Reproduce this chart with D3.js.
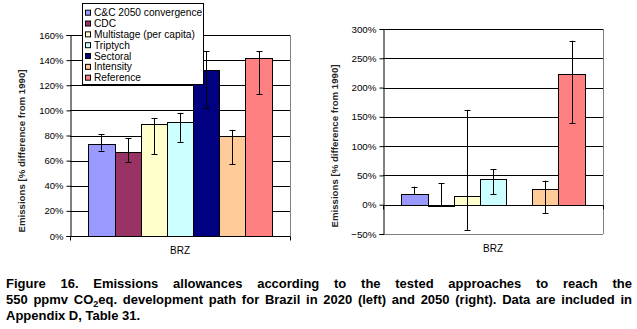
<!DOCTYPE html>
<html>
<head>
<meta charset="utf-8">
<script src="https://cdn.jsdelivr.net/npm/d3@7"></script>
<style>
  body { margin: 0; background: #fff; }
  svg { display: block; font-family: Arial, "Liberation Sans", sans-serif; }
</style>
</head>
<body>
<div id="chart"></div>
<script>
// series shared by both panels
const series = ["C&C 2050 convergence", "CDC", "Multistage (per capita)", "Triptych", "Sectoral", "Intensity", "Reference"]
const colors = ["#9999ff", "#993366", "#ffffcc", "#ccffff", "#000080", "#ffcc99", "#ff8080"]
const category = ["BRZ"]

// 2020 (left)
const val2020 = [0.73, 0.67, 0.89, 0.91, 1.32, 0.80, 1.42]
const low2020 = [0.68, 0.59, 0.65, 0.75, 1.02, 0.57, 1.13]
const high2020 = [0.81, 0.78, 0.94, 0.98, 1.47, 0.845, 1.47]
const ticks2020 = [0, 0.2, 0.4, 0.6, 0.8, 1.0, 1.2, 1.4, 1.6]

// 2050 (right), no sectoral value
const val2050 = [0.18, -0.02, 0.15, 0.44, null, 0.27, 2.24]
const low2050 = [0.18, -0.02, -0.43, 0.18, null, -0.14, 1.39]
const high2050 = [0.31, 0.37, 1.62, 0.61, null, 0.41, 2.80]
const ticks2050 = [-0.5, 0, 0.5, 1.0, 1.5, 2.0, 2.5, 3.0]

const yTitle = "Emissions [% difference from 1990]"

const W = 637, H = 329
const svg = d3.select("#chart").append("svg")
    .attr("width", W)
    .attr("height", H)

const fmt = d3.format(".0%")

function panel(opt) {
    const g = svg.append("g")
    const x0 = d3.scaleBand().domain(category).range([opt.left, opt.right]).paddingOuter(0.1).paddingInner(0)
    const x1 = d3.scaleBand().domain(series).range([0, x0.bandwidth()])
    const y = d3.scaleLinear().domain(opt.domain).range([opt.bottom, opt.top])
    const tks = opt.ticks

    // gridlines
    g.selectAll(".grid")
        .data(tks.filter(t => t !== 0 && t !== opt.domain[0]))
        .enter().append("line")
        .attr("x1", opt.left).attr("x2", opt.right)
        .attr("y1", d => Math.round(y(d)) + 0.5).attr("y2", d => Math.round(y(d)) + 0.5)
        .attr("stroke", "#000").attr("stroke-width", 1)

    // gray plot border (right, bottom)
    g.append("line")
        .attr("x1", opt.right + 0.5).attr("x2", opt.right + 0.5)
        .attr("y1", y(opt.domain[1])).attr("y2", y(opt.domain[0]))
        .attr("stroke", "#808080")
    if (opt.domain[0] !== 0) {
        g.append("line")
            .attr("x1", opt.left).attr("x2", opt.right)
            .attr("y1", Math.round(y(opt.domain[0])) + 0.5).attr("y2", Math.round(y(opt.domain[0])) + 0.5)
            .attr("stroke", "#808080")
    }

    const rows = series.map((s, i) => ({ s: s, i: i, v: opt.vals[i], lo: opt.lows[i], hi: opt.highs[i] }))
        .filter(d => d.v !== null)

    const bx = d => x0("BRZ") + x1(d.s)
    g.selectAll(".bar")
        .data(rows)
        .enter().append("rect")
        .attr("x", d => Math.round(bx(d)) + 0.5)
        .attr("width", d => Math.round(bx(d) + x1.bandwidth()) - Math.round(bx(d)))
        .attr("y", d => Math.round(y(Math.max(0, d.v))) + 0.5)
        .attr("height", d => Math.max(1, Math.abs(Math.round(y(0)) - Math.round(y(d.v)))))
        .attr("fill", d => colors[d.i])
        .attr("stroke", "#000").attr("stroke-width", 1)

    // error bars
    const cx = d => Math.round(bx(d) + x1.bandwidth() / 2) + 0.5
    const eb = g.selectAll(".err").data(rows).enter().append("g")
    eb.append("line")
        .attr("x1", cx).attr("x2", cx)
        .attr("y1", d => y(d.hi)).attr("y2", d => y(d.lo))
        .attr("stroke", "#000")
    eb.append("line")
        .attr("x1", d => cx(d) - 3).attr("x2", d => cx(d) + 3)
        .attr("y1", d => Math.round(y(d.hi)) + 0.5).attr("y2", d => Math.round(y(d.hi)) + 0.5)
        .attr("stroke", "#000")
    eb.filter(d => d.lo !== d.v).append("line")
        .attr("x1", d => cx(d) - 3).attr("x2", d => cx(d) + 3)
        .attr("y1", d => Math.round(y(d.lo)) + 0.5).attr("y2", d => Math.round(y(d.lo)) + 0.5)
        .attr("stroke", "#000")

    // category axis at zero
    const y0 = Math.round(y(0)) + 0.5
    g.append("line")
        .attr("x1", opt.left).attr("x2", opt.right + 0.5)
        .attr("y1", y0).attr("y2", y0)
        .attr("stroke", "#000")
    g.selectAll(".xtick")
        .data([opt.left + 0.5, opt.right + 0.5])
        .enter().append("line")
        .attr("x1", d => d).attr("x2", d => d)
        .attr("y1", y0).attr("y2", y0 + 4)
        .attr("stroke", "#000")

    // value axis
    const yAxis = d3.axisLeft(y).tickValues(tks).tickFormat(fmt).tickSize(4).tickPadding(3)
    const ya = g.append("g")
        .attr("transform", "translate(" + (opt.left + 0.5) + ",0)")
        .call(yAxis)
    ya.select(".domain").attr("stroke", "#000")
    ya.selectAll(".tick line").attr("stroke", "#000")
    ya.selectAll("text")
        .attr("fill", "#000")
        .style("font-family", "Arial, 'Liberation Sans', sans-serif")
        .style("font-size", opt.tickFont + "px")

    // category label
    g.append("text")
        .attr("x", x0("BRZ") + x0.bandwidth() / 2)
        .attr("y", opt.catY)
        .attr("text-anchor", "middle")
        .style("font-size", "10px")
        .text("BRZ")

    // axis title
    g.append("text")
        .attr("transform", "translate(" + opt.titleX + "," + opt.titleY + ") rotate(-90)")
        .attr("text-anchor", "middle")
        .attr("textLength", 163)
        .attr("lengthAdjust", "spacingAndGlyphs")
        .style("font-size", "9.5px")
        .style("font-weight", "bold")
        .attr("fill", "#222")
        .text(yTitle)
}

panel({ left: 70, right: 290, top: 35, bottom: 236, domain: [0, 1.6], ticks: ticks2020,
    vals: val2020, lows: low2020, highs: high2020, tickFont: 9.5, catY: 254, titleX: 25, titleY: 151 })
panel({ left: 383, right: 603, top: 29, bottom: 234, domain: [-0.5, 3.0], ticks: ticks2050,
    vals: val2050, lows: low2050, highs: high2050, tickFont: 9.8, catY: 252, titleX: 338, titleY: 146 })

// legend on left panel
const lg = svg.append("g")
lg.append("rect")
    .attr("x", 82.5).attr("y", 3.5)
    .attr("width", 121).attr("height", 81)
    .attr("fill", "#fff").attr("stroke", "#000")
const li = lg.selectAll(".li").data(series).enter().append("g")
    .attr("transform", (d, i) => "translate(0," + (12.7 + i * 10.83) + ")")
li.append("rect")
    .attr("x", 85.5).attr("y", -2.5)
    .attr("width", 5).attr("height", 5)
    .attr("fill", (d, i) => colors[i])
    .attr("stroke", "#000")
li.append("text")
    .attr("x", 94).attr("y", 3.6)
    .style("font-size", "10.2px")
    .text(d => d)

// caption, justified like the source
const capFont = "'Liberation Sans Narrow', 'Arial Narrow', Arial, 'Liberation Sans', sans-serif"
const capLines = [
    { words: ["Figure", "16.", "Emissions", "allowances", "according", "to", "the", "tested", "approaches", "to", "reach", "the"], justify: true },
    { words: ["550", "ppmv", "CO2eq.", "development", "path", "for", "Brazil", "in", "2020", "(left)", "and", "2050", "(right).", "Data", "are", "included", "in"], justify: true },
    { words: ["Appendix", "D,", "Table", "31."], justify: false }
]
const capX = 6, capW = 626, capY = [288, 304, 320]

const cap = svg.append("g")
function addWord(parent, w) {
    const t = parent.append("text")
        .style("font-family", capFont)
        .style("font-size", "13px")
        .style("font-weight", "bold")
    if (w === "CO2eq.") {
        t.append("tspan").text("CO")
        t.append("tspan").attr("dy", 2.5).style("font-size", "9px").text("2")
        t.append("tspan").attr("dy", -2.5).text("eq.")
    } else {
        t.text(w)
    }
    return t
}
// measure
const probe = cap.append("g")
const spaceW = (function () {
    const a = addWord(probe, "a a").node().getComputedTextLength()
    const b = addWord(probe, "aa").node().getComputedTextLength()
    return a - b
})()
const lineData = capLines.map(l => {
    const ws = l.words.map(w => {
        const n = addWord(probe, w).node()
        return n.getComputedTextLength()
    })
    return { words: l.words, widths: ws, justify: l.justify, natural: d3.sum(ws) + spaceW * (ws.length - 1) }
})
probe.remove()
// condense if the narrow face is not available
const sx = Math.min(1, (capW - 2) / lineData[1].natural)

lineData.forEach((l, k) => {
    const lg2 = cap.append("g").attr("transform", "translate(" + capX + "," + capY[k] + ") scale(" + sx + ",1)")
    const gap = l.justify ? (capW / sx - d3.sum(l.widths)) / (l.words.length - 1) : spaceW
    let xx = 0
    l.words.forEach((w, i) => {
        addWord(lg2, w).attr("x", xx)
        xx += l.widths[i] + gap
    })
})
</script>
</body>
</html>
